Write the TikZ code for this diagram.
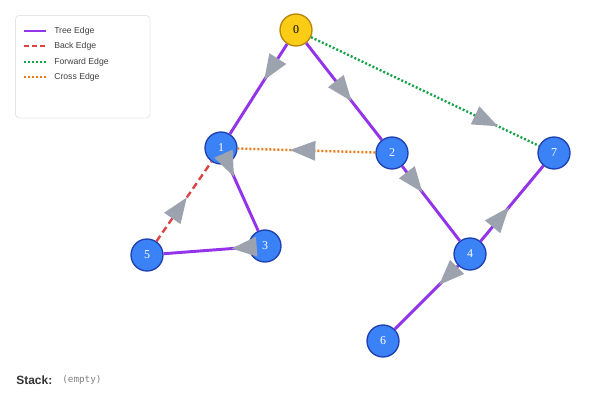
\documentclass[tikz,border=0pt]{standalone}
\usepackage{fontspec}
\setmainfont{Liberation Serif}
\setsansfont{Liberation Sans}
\setmonofont{DejaVu Sans Mono}
\usetikzlibrary{decorations.markings,arrows.meta}
\definecolor{tree}{HTML}{9333EA}
\definecolor{back}{HTML}{DC4444}
\definecolor{fwd}{HTML}{16A34A}
\definecolor{crs}{HTML}{EA7A16}
\definecolor{nblue}{HTML}{3B82F6}
\definecolor{nborder}{HTML}{1E40AF}
\definecolor{ngold}{HTML}{FACC15}
\definecolor{gborder}{HTML}{B8860B}
\definecolor{arr}{HTML}{9CA3AF}
\tikzset{
 vtx/.style={circle,fill=nblue,draw=nborder,line width=1pt,minimum size=24pt,inner sep=0pt,text=white,font=\small},
 root/.style={vtx,fill=ngold,draw=gborder,text=black},
 mk/.style={postaction={decorate,decoration={markings,mark=at position #1 with {\arrow[arr,line width=0pt]{Triangle[length=19pt,width=15pt]}}}}},
 treeE/.style={tree,line width=2.2pt},
 backE/.style={back,line width=1.8pt,dash pattern=on 5pt off 3pt},
 fwdE/.style={fwd,line width=1.8pt,dash pattern=on 1.5pt off 1.5pt},
 crsE/.style={crs,line width=1.8pt,dash pattern=on 1.5pt off 1.5pt},
}
\begin{document}
\begin{tikzpicture}[x=0.75pt,y=-0.75pt]
\useasboundingbox (0,0) rectangle (600,400);
\node[root] (n0) at (296,30) {0};
\node[vtx] (n1) at (221,148) {1};
\node[vtx] (n2) at (392,153) {2};
\node[vtx] (n7) at (554,153) {7};
\node[vtx] (n3) at (265,246) {3};
\node[vtx] (n5) at (147,255) {5};
\node[vtx] (n4) at (470,254) {4};
\node[vtx] (n6) at (383,341) {6};
\begin{scope}[on background layer/.try]
\end{scope}
\draw[fwdE,mk=0.82] (n0) -- (n7);
\draw[crsE,mk=0.62] (n2) -- (n1);
\draw[backE,mk=0.55] (n5) -- (n1);
\draw[treeE,mk=0.4] (n0) -- (n1);
\draw[treeE,mk=0.6] (n0) -- (n2);
\draw[treeE,mk=0.2] (n1) -- (n3);
\draw[treeE,mk=0.2] (n3) -- (n5);
\draw[treeE,mk=0.35] (n2) -- (n4);
\draw[treeE,mk=0.45] (n4) -- (n7);
\draw[treeE,mk=0.3] (n4) -- (n6);
% legend
\node[draw=black!10,rounded corners=3pt,minimum width=101pt*0.75/0.75,minimum height=77,anchor=north west,line width=0.6pt] (leg) at (15,15) {};
\node[draw=none] (legbox) at (15,15) {};
\coordinate (l1a) at (24,31); \coordinate (l1b) at (46,31);
\coordinate (l2a) at (24,46); \coordinate (l2b) at (46,46);
\coordinate (l3a) at (24,62); \coordinate (l3b) at (46,62);
\coordinate (l4a) at (24,77); \coordinate (l4b) at (46,77);
\draw[tree,line width=2.2pt] (l1a) -- (l1b);
\draw[back,line width=1.8pt,dash pattern=on 4pt off 2pt] (l2a) -- (l2b);
\draw[fwdE] (l3a) -- (l3b);
\draw[crsE] (l4a) -- (l4b);
\tikzset{lt/.style={anchor=west,font=\sffamily\fontsize{6.5}{7}\selectfont,text=black!75,inner sep=0pt}}
\node[lt] (t1) at (54,31) {Tree Edge};
\node[lt] (t2) at (54,46) {Back Edge};
\node[lt] (t3) at (54,62) {Forward Edge};
\node[lt] (t4) at (54,77) {Cross Edge};
\node[anchor=west,font=\sffamily\bfseries\small,text=black!80,inner sep=0pt] (st) at (16,380) {Stack:};
\node[anchor=west,font=\ttfamily\scriptsize,text=black!50,inner sep=0pt] (se) at (62,380) {(empty)};
\end{tikzpicture}
\end{document}
